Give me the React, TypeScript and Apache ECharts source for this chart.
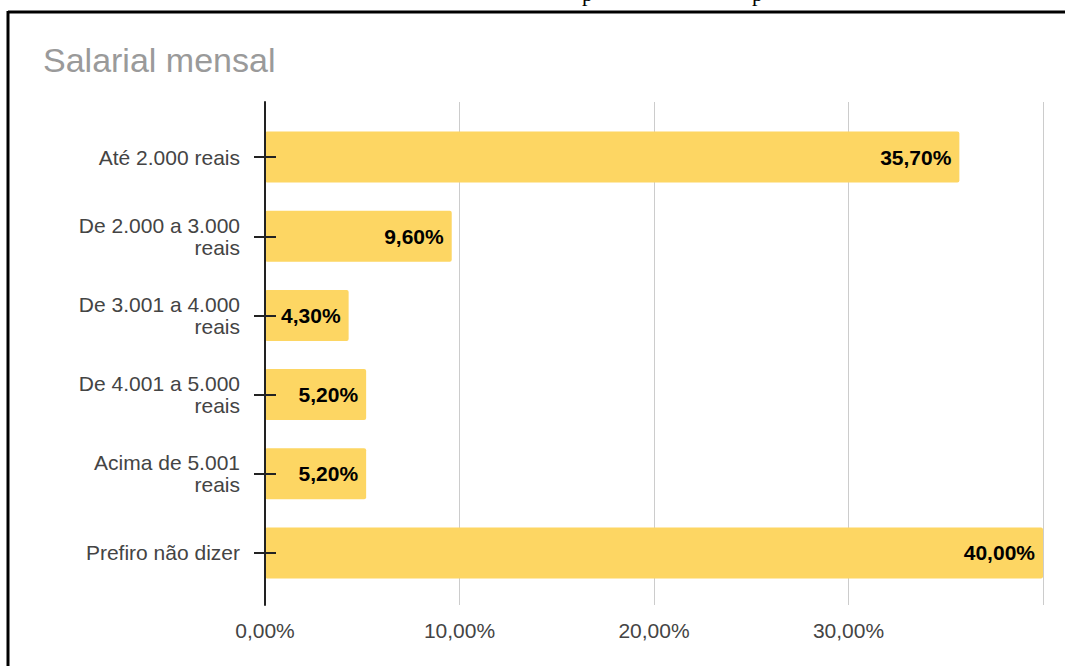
import React, { useEffect, useRef } from "react";
import * as echarts from "echarts";

const categories = [
  "Até 2.000 reais",
  "De 2.000 a 3.000\nreais",
  "De 3.001 a 4.000\nreais",
  "De 4.001 a 5.000\nreais",
  "Acima de 5.001\nreais",
  "Prefiro não dizer",
];
const values = [35.7, 9.6, 4.3, 5.2, 5.2, 40.0];
const xTicks = [0, 10, 20, 30, 40];
const titleText = "Salarial mensal";

const fmt = (v: number) => v.toFixed(2).replace(".", ",") + "%";

export default function App() {
  const ref = useRef<HTMLDivElement>(null);
  useEffect(() => {
    if (!ref.current) return;
    const chart = echarts.init(ref.current, undefined, { renderer: "svg" });
    const font = "Arial, 'Liberation Sans', sans-serif";
    chart.setOption({
      animation: false,
      backgroundColor: "#ffffff",
      graphic: [
        { type: "line", shape: { x1: 8, y1: 12, x2: 1065, y2: 12 }, style: { stroke: "#000", lineWidth: 3 } },
        { type: "line", shape: { x1: 8, y1: 11, x2: 8, y2: 666 }, style: { stroke: "#000", lineWidth: 3 } },
        { type: "text", x: 582, y: -18, style: { text: "p", font: "22px 'Liberation Serif', serif", fill: "#000" } },
        { type: "text", x: 752, y: -18, style: { text: "p", font: "22px 'Liberation Serif', serif", fill: "#000" } },
        {
          type: "text",
          x: 43,
          y: 43,
          style: { text: titleText, font: `34px ${font}`, fill: "#9a9a9a" },
        },
      ],
      grid: [
        { left: 265, right: 22, top: 102, bottom: 61 },
        { left: 265, right: 22, top: 117.5, bottom: 73.5 },
      ],
      xAxis: [
        {
          type: "value",
          gridIndex: 0,
          min: 0,
          max: 40,
          interval: 10,
          axisLine: { show: false },
          axisTick: { show: false },
          splitLine: { show: true, lineStyle: { color: "#cccccc", width: 1 } },
          axisLabel: {
            color: "#444",
            fontSize: 21,
            fontFamily: font,
            margin: 15,
            formatter: (v: number) => (xTicks.includes(v) && v < 40 ? fmt(v) : ""),
          },
        },
        {
          type: "value",
          gridIndex: 1,
          min: 0,
          max: 40,
          show: false,
        },
      ],
      yAxis: [
        {
          type: "value",
          gridIndex: 0,
          min: 0,
          max: 1,
          axisLine: { show: true, lineStyle: { color: "#222", width: 2 } },
          axisTick: { show: false },
          axisLabel: { show: false },
          splitLine: { show: false },
          z: 10,
        },
        {
          type: "category",
          gridIndex: 1,
          position: "left",
          inverse: true,
          data: categories,
          axisLine: { show: false },
          axisTick: { show: true, alignWithLabel: true, length: 11, lineStyle: { color: "#222", width: 2 } },
          axisLabel: {
            color: "#444",
            fontSize: 21,
            fontFamily: font,
            margin: 25,
            lineHeight: 22,
            align: "right",
          },
          z: 10,
        },
        {
          type: "category",
          gridIndex: 1,
          position: "left",
          inverse: true,
          data: categories,
          axisLine: { show: false },
          axisTick: { show: true, inside: true, alignWithLabel: true, length: 11, lineStyle: { color: "#222", width: 2 } },
          axisLabel: { show: false },
          z: 10,
        },
      ],
      series: [
        {
          type: "bar",
          xAxisIndex: 1,
          yAxisIndex: 1,
          data: values,
          barWidth: 51,
          itemStyle: { color: "#FDD663", borderRadius: 2 },
          label: {
            show: true,
            position: "insideRight",
            distance: 8,
            color: "#000",
            fontWeight: "bold",
            fontSize: 21,
            fontFamily: font,
            formatter: (p: any) => fmt(p.value),
          },
          z: 2,
        },
      ],
    });
    return () => chart.dispose();
  }, []);
  return (
    <div
      ref={ref}
      style={{ position: "fixed", left: 0, top: 0, width: 1065, height: 666, background: "#fff" }}
    />
  );
}
